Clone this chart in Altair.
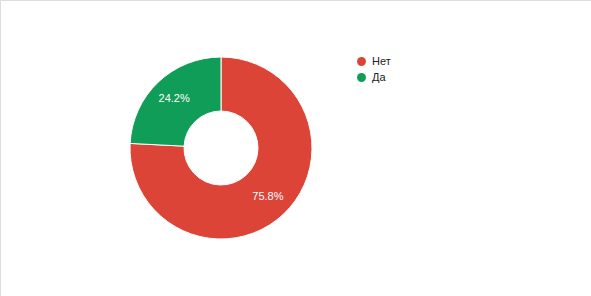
import altair as alt
import pandas as pd

answers = ["Нет", "Да"]
shares = [75.8, 24.2]
colors = ["#DB4437", "#0F9D58"]

df = pd.DataFrame({
    "answer": answers,
    "share": shares,
    "rank": list(range(len(answers))),
})
df["label"] = df["share"].map(lambda v: f"{v:.1f}%")

cx, cy = 221, 148

base = alt.Chart(df).encode(
    theta=alt.Theta("share:Q", stack=True),
    order=alt.Order("rank:O"),
    x=alt.value(cx),
    y=alt.value(cy),
)

ring = base.mark_arc(radius=91, radius2=37, stroke="white", strokeWidth=1).encode(
    color=alt.Color(
        "answer:N",
        scale=alt.Scale(domain=answers, range=colors),
        sort=answers,
        legend=alt.Legend(
            title=None,
            orient="none",
            legendX=356,
            legendY=56,
            symbolType="circle",
            symbolSize=80,
            symbolStrokeWidth=0,
            labelFont="Liberation Sans",
            labelFontSize=11,
            labelColor="#222222",
            rowPadding=4,
            labelOffset=5,
        ),
    )
)

labels = base.mark_text(
    radius=68, font="Liberation Sans", fontSize=11, color="white"
).encode(text="label:N")

chart = (
    alt.layer(ring, labels)
    .properties(width=591, height=296, padding=0, autosize=alt.AutoSizeParams(type="none"))
    .configure_view(stroke=None)
    .configure(background="white")
)

chart.save("out.html", embed_options={"renderer": "svg", "actions": False})
